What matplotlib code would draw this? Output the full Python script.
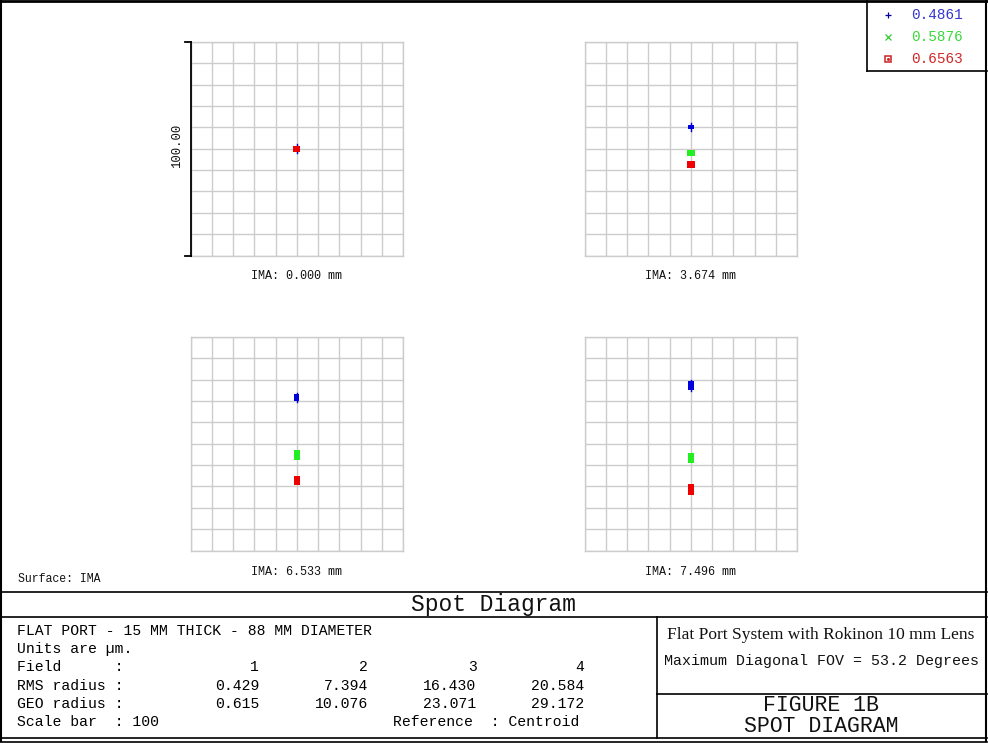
import matplotlib
matplotlib.use("Agg")
import matplotlib.pyplot as plt
from matplotlib.patches import Rectangle
from matplotlib.lines import Line2D

# ---------------- data ----------------
wavelengths = ["0.4861", "0.5876", "0.6563"]
field_labels = ["IMA: 0.000 mm", "IMA: 3.674 mm", "IMA: 6.533 mm", "IMA: 7.496 mm"]
field_numbers = ["1", "2", "3", "4"]
rms_radius = ["0.429", "7.394", "16.430", "20.584"]
geo_radius = ["0.615", "10.076", "23.071", "29.172"]

# spot centroid positions (µm, relative to chief reference) per field
spot_x_blue = [0.0, 0.0, 0.0, 0.0]
spot_y_blue = [0.0, 10.2, 21.7, 27.3]
spot_x_green = [0.0, 0.0, 0.0, 0.0]
spot_y_green = [0.0, -2.0, -5.3, -6.5]
spot_x_red = [0.0, 0.0, 0.0, 0.0]
spot_y_red = [0.0, -7.4, -17.3, -21.5]
# spot extents (µm)
spot_w_blue = [3.2, 2.7, 2.4, 2.6]
spot_h_blue = [3.0, 2.1, 3.2, 3.9]
spot_w_green = [3.2, 3.6, 2.7, 2.7]
spot_h_green = [3.0, 2.4, 4.8, 4.8]
spot_w_red = [3.2, 3.6, 2.7, 2.7]
spot_h_red = [3.0, 2.9, 4.0, 5.3]

scale_bar = 100.0  # µm

# ---------------- styling ----------------
W, H = 988, 743
MONO = "Liberation Mono"
SERIF = "Liberation Serif"
C_BLUE, C_GREEN, C_RED = "#0000dd", "#22ee22", "#ee0000"
T_BLUE, T_GREEN, T_RED = "#3535d0", "#3ad83a", "#d02828"
GRID = "#cccccc"

fig = plt.figure(figsize=(W / 100, H / 100), dpi=100)
fig.patch.set_facecolor("white")

def px_axes(x0, y0, w, h):
    return fig.add_axes([x0 / W, 1 - (y0 + h) / H, w / W, h / H])

panel_pos = [(190.5, 42), (584.5, 42), (190.5, 337), (584.5, 337)]
PW, PH = 212.5, 213.5

series = [
    (spot_x_blue, spot_y_blue, spot_w_blue, spot_h_blue, C_BLUE),
    (spot_x_green, spot_y_green, spot_w_green, spot_h_green, C_GREEN),
    (spot_x_red, spot_y_red, spot_w_red, spot_h_red, C_RED),
]

axes = []
half = scale_bar / 2
for i, (px, py) in enumerate(panel_pos):
    ax = px_axes(px, py, PW, PH)
    ax.set_xlim(-half, half)
    ax.set_ylim(-half, half)
    ax.set_xticks([-half + k * scale_bar / 10 for k in range(11)])
    ax.set_yticks([-half + k * scale_bar / 10 for k in range(11)])
    ax.grid(True, color=GRID, lw=1.0)
    ax.tick_params(length=0, labelbottom=False, labelleft=False)
    for s in ax.spines.values():
        s.set_color(GRID)
        s.set_linewidth(1.0)
    for k, (xs, ys, ws, hs, c) in enumerate(series):
        x, y, w, h = xs[i], ys[i], ws[i], hs[i]
        ax.add_patch(Rectangle((x - w / 2, y - h / 2), w, h, facecolor=c,
                               edgecolor="none", zorder=3 + k))
        if k == 0:
            ax.plot([x, x], [y - h / 2 - 0.7, y + h / 2 + 0.7], color=c,
                    lw=1.0, zorder=3)
    axes.append(ax)

# scale bar on the first panel
ax0 = axes[0]
tick = 2.4
ax0.plot([-half, -half], [-half, half], color="black", lw=1.3, clip_on=False, zorder=10)
ax0.plot([-half - tick, -half], [half, half], color="black", lw=1.3, clip_on=False, zorder=10)
ax0.plot([-half - tick, -half], [-half, -half], color="black", lw=1.3, clip_on=False, zorder=10)

# ---------------- overlay for frame and text ----------------
ov = fig.add_axes([0, 0, 1, 1], facecolor="none")
ov.set_xlim(0, W)
ov.set_ylim(H, 0)
ov.axis("off")

def hl(y, x0, x1, lw=1.2):
    ov.add_line(Line2D([x0, x1], [y, y], color="black", lw=lw))

def vl(x, y0, y1, lw=1.2):
    ov.add_line(Line2D([x, x], [y0, y1], color="black", lw=lw))

# outer frame
hl(1, 0, W - 1, lw=2.0)
vl(1, 0, 741, lw=1.5)
vl(986, 0, 741, lw=1.5)
hl(738, 0, 987, lw=1.2)
hl(741.5, 0, 987, lw=1.2)
# table lines
hl(591.5, 0, 987)
hl(616.5, 0, 987)
vl(656.5, 616.5, 738)
hl(693.5, 656.5, 987)
# legend box
vl(867, 0, 71)
hl(71, 867, 987)

# legend
leg_y = [15, 37, 59]
leg_markers = [("+", "#000099"), ("x", "#33cc33"), ("s", "#cc2222")]
text_cols = [T_BLUE, T_GREEN, T_RED]
for (m, mc), y, lab, tc in zip(leg_markers, leg_y, wavelengths, text_cols):
    if m == "s":
        ov.plot([887.5], [y], marker="s", ms=4.0, mfc="none", mec=mc, mew=1.1)
        ov.plot([887.5], [y], marker="s", ms=1.0, mfc=mc, mec=mc)
    else:
        ov.plot([887.5], [y], marker=m, ms=4.5, color=mc, mew=0.9)
    ov.text(911, y, lab, color=tc, family=MONO, fontsize=10.4, ha="left", va="center")

# panel labels
label_pos = [(296.5, 276), (690.5, 276), (296.5, 572), (690.5, 572)]
for (lx, ly), lab in zip(label_pos, field_labels):
    ov.text(lx, ly, lab, family=MONO, fontsize=8.5, ha="center", va="center", color="#111111")

# scale bar label
ov.text(177, 146, "%.2f" % scale_bar, family=MONO, fontsize=8.8, rotation=90,
        ha="center", va="center", color="#111111")

ov.text(18, 579, "Surface: IMA", family=MONO, fontsize=8.3, ha="left", va="center", color="#111111")

# header
ov.text(493.5, 604, "Spot Diagram", family=MONO, fontsize=16.5, ha="center", va="center", color="#111111")

# data block
rows_y = [631, 649, 667, 686, 704, 722]
TS = 10.6
ov.text(17, rows_y[0], "FLAT PORT - 15 MM THICK - 88 MM DIAMETER", family=MONO, fontsize=TS, ha="left", va="center")
ov.text(17, rows_y[1], "Units are \u00b5m.", family=MONO, fontsize=TS, ha="left", va="center")
ov.text(17, rows_y[2], "Field      :", family=MONO, fontsize=TS, ha="left", va="center")
ov.text(17, rows_y[3], "RMS radius :", family=MONO, fontsize=TS, ha="left", va="center")
ov.text(17, rows_y[4], "GEO radius :", family=MONO, fontsize=TS, ha="left", va="center")
ov.text(17, rows_y[5], "Scale bar  : %d" % scale_bar, family=MONO, fontsize=TS, ha="left", va="center")
col_right = [259, 368, 476.5, 584]
for cx, fn, r, g in zip(col_right, field_numbers, rms_radius, geo_radius):
    ov.text(cx, rows_y[2], fn, family=MONO, fontsize=TS, ha="right", va="center")
    ov.text(cx, rows_y[3], r, family=MONO, fontsize=TS, ha="right", va="center")
    ov.text(cx, rows_y[4], g, family=MONO, fontsize=TS, ha="right", va="center")
ov.text(579, rows_y[5], "Reference  : Centroid", family=MONO, fontsize=TS, ha="right", va="center")

# right title block
ov.text(821, 635, "Flat Port System with Rokinon 10 mm Lens", family=SERIF, fontsize=12.5,
        ha="center", va="center", color="#111111")
ov.text(821, 661, "Maximum Diagonal FOV = 53.2 Degrees", family=MONO, fontsize=10.8,
        ha="center", va="center", color="#111111")
ov.text(821, 716, "FIGURE 1B\nSPOT DIAGRAM", family=MONO, fontsize=15.5, ha="center",
        va="center", multialignment="center", linespacing=1.05, color="#111111")

fig.savefig("out.png", dpi=100)
